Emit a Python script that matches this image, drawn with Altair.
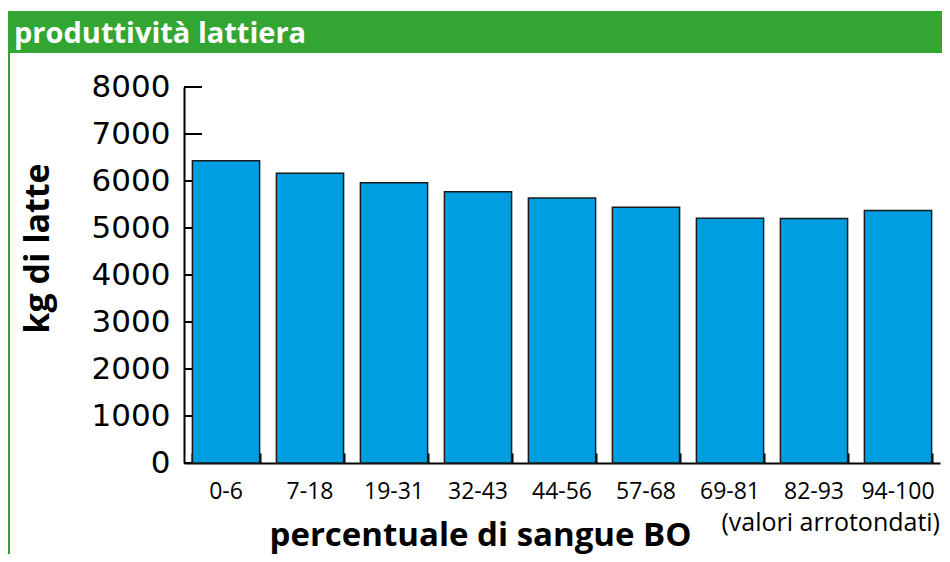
import altair as alt
import pandas as pd

categories = ["0-6", "7-18", "19-31", "32-43", "44-56", "57-68", "69-81", "82-93", "94-100"]
values = [6430, 6165, 5965, 5770, 5640, 5440, 5210, 5200, 5370]
y_ticks = [0, 1000, 2000, 3000, 4000, 5000, 6000, 7000, 8000]
header_text = ["produttività lattiera"]
note_text = ["(valori arrotondati)"]
x_title = "percentuale di sangue BO"
y_title = "kg di latte"

W, H = 756, 376
GREEN = "#33a532"
BLUE = "#009ee0"

bars_df = pd.DataFrame({"cat": categories, "val": values})
ticks_df = pd.DataFrame({"val": y_ticks})
header_df = pd.DataFrame({"t": header_text})
note_df = pd.DataFrame({"t": note_text})

x_scale = alt.Scale(domain=categories, paddingInner=0.2, paddingOuter=0.1)
y_scale = alt.Scale(domain=[0, 8000], nice=False)

y_axis = alt.Axis(
    values=y_ticks, format="d", orient="left", ticks=False, tickSize=0, grid=False,
    domainColor="black", domainWidth=2,
    labelFont="DejaVu Sans", labelFontSize=31, labelColor="black", labelPadding=14,
    title=y_title, titleFont="Open Sans", titleFontSize=34, titleFontWeight="bold",
    titleColor="black", titlePadding=36, titleY=161,
)

header_rect = alt.Chart(header_df).mark_rect(color=GREEN).encode(
    x=alt.value(-177), x2=alt.value(766), y=alt.value(-76), y2=alt.value(-34)
)
header_txt = alt.Chart(header_df).mark_text(
    align="left", baseline="alphabetic", color="white",
    font="Open Sans", fontSize=29, fontWeight="bold"
).encode(text="t:N", x=alt.value(-170), y=alt.value(-44))
left_line = alt.Chart(header_df).mark_rule(color=GREEN, strokeWidth=2).encode(
    x=alt.value(-175), y=alt.value(-34), y2=alt.value(480)
)

yticks = alt.Chart(ticks_df).mark_rule(color="black", strokeWidth=2).encode(
    y=alt.Y("val:Q", scale=y_scale, axis=y_axis),
    x=alt.value(0), x2=alt.value(18),
)

bars = alt.Chart(bars_df).mark_bar(
    fill=BLUE, stroke="#1a1a1a", strokeWidth=1.5
).encode(
    x=alt.X("cat:N", scale=x_scale, sort=categories, axis=alt.Axis(
        orient="bottom", ticks=False, tickSize=0, grid=False,
        domainColor="black", domainWidth=2, labelAngle=0,
        labelFont="Open Sans", labelFontSize=23, labelColor="black",
        labelPadding=35, labelBaseline="alphabetic",
        title=x_title, titleFont="Open Sans", titleFontSize=33,
        titleFontWeight="bold", titleColor="black",
        titleX=296, titleY=82, titleBaseline="alphabetic", titleAlign="center",
    )),
    y=alt.Y("val:Q", scale=y_scale, axis=y_axis),
)

xticks = alt.Chart(bars_df).mark_bar(opacity=0).encode(
    x=alt.X("cat:N", scale=x_scale, sort=categories, axis=alt.Axis(
        orient="top", offset=-H, labels=False, domain=False, grid=False,
        ticks=True, tickSize=10, tickWidth=2, tickColor="black",
        tickBand="extent", title=None,
    )),
    y=alt.Y("val:Q", scale=y_scale, axis=y_axis),
)

note = alt.Chart(note_df).mark_text(
    align="right", baseline="alphabetic", color="black",
    font="Open Sans", fontSize=25
).encode(text="t:N", x=alt.value(W), y=alt.value(444))

chart = alt.layer(
    header_rect, header_txt, left_line, yticks, bars, xticks, note
).resolve_axis(x="independent").properties(
    width=W, height=H,
    autosize=alt.AutoSizeParams(type="none"),
    padding={"left": 176, "top": 79, "right": 2, "bottom": 91},
).configure(background="white").configure_view(stroke=None)

chart.save("out.html", embed_options={"renderer": "svg", "actions": False})
